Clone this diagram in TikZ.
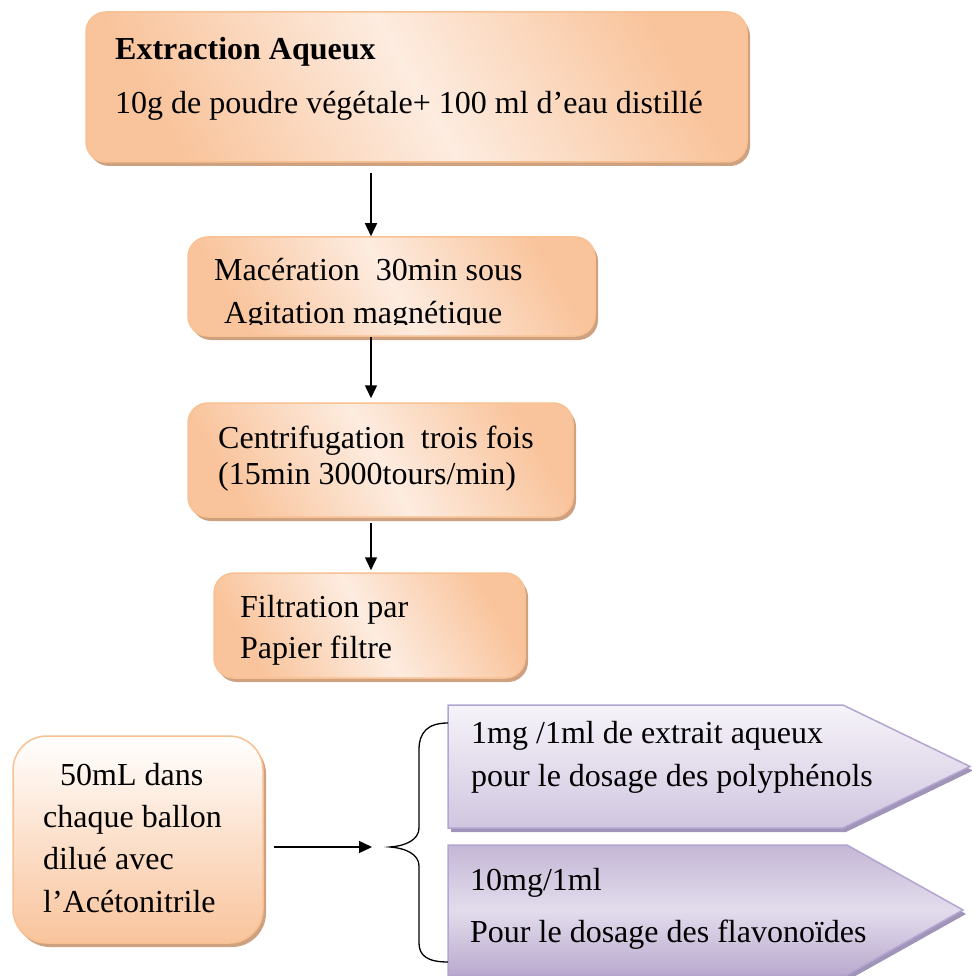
\documentclass[tikz,border=0pt]{standalone}
\usepackage{fontspec}
\setmainfont{Liberation Serif}
\usetikzlibrary{arrows.meta,shadows}
\definecolor{obord}{RGB}{249,192,146}
\definecolor{odark}{RGB}{249,196,156}
\definecolor{olight}{RGB}{253,236,224}
\definecolor{oshadow}{RGB}{206,162,128}
\definecolor{pbord}{RGB}{178,165,208}
\definecolor{plight}{RGB}{246,243,249}
\definecolor{pmid}{RGB}{214,205,228}
\definecolor{pdark}{RGB}{186,170,206}
\definecolor{pshadow}{RGB}{160,148,184}
\tikzset{
  obox/.style={draw=obord, line width=1.5pt, rounded corners=20pt, inner sep=0pt,
    left color=odark, right color=odark, middle color=olight, shading angle=120,
    drop shadow={shadow xshift=3pt, shadow yshift=-4pt, fill=oshadow, opacity=1}},
  pshape/.style={draw=pbord, line width=1.5pt,
    drop shadow={shadow xshift=3pt, shadow yshift=-4pt, fill=pshadow, opacity=1}},
  txt/.style={anchor=base west, inner sep=0pt, font=\fontsize{32}{38}\selectfont},
  arr/.style={line width=1.5pt, -{Triangle[length=13pt,width=12pt]}},
}
\begin{document}
\begin{tikzpicture}[x=1pt,y=-1pt]
\useasboundingbox (0,0) rectangle (971,976);
% orange boxes
\node[obox, minimum width=661pt, minimum height=150pt] (box1) at (416.5,87) {};
\node[obox, minimum width=407pt, minimum height=99pt] (box2) at (391.5,286.5) {};
\node[obox, minimum width=385pt, minimum height=114pt] (box3) at (380.5,460) {};
\node[obox, minimum width=311pt, minimum height=105pt] (box4) at (369.5,625.5) {};
\node[obox, rounded corners=34pt, minimum width=250pt, minimum height=207pt,
      top color=white, bottom color=odark, middle color=olight!70!odark] (box5) at (138,839.5) {};
% purple pentagons
\path[pshape, top color=plight, bottom color=pmid!80!pdark]
  (448,705) coordinate (p1nw) -- (843,705) -- (970,766.5) coordinate (p1tip) -- (843,828) -- (448,828) coordinate (p1sw) -- cycle;
\path[pshape, top color=pdark!85, bottom color=pdark, middle color=pmid!60!plight]
  (448,845) coordinate (p2nw) -- (847,845) -- (963,910) coordinate (p2tip) -- (847,975) -- (448,975) coordinate (p2sw) -- cycle;
% texts
\node[txt, font=\fontsize{32}{38}\selectfont\bfseries] (t1a) at (115,60) {Extraction Aqueux};
\node[txt] (t1b) at (115,114) {10g de poudre végétale+ 100 ml d’eau distillé};
\node[txt] (t2a) at (214,280) {Macération\ \ 30min sous};
\begin{scope}
  \clip (180,290) rectangle (600,324);
  \node[txt] (t2b) at (224,323) {Agitation magnétique};
\end{scope}
\node[txt] (t3a) at (218,448) {Centrifugation\ \ trois fois};
\node[txt] (t3b) at (218,484) {(15min 3000tours/min)};
\node[txt] (t4a) at (240,617) {Filtration par};
\node[txt] (t4b) at (240,658) {Papier filtre};
\node[txt] (t5a) at (60,785) {50mL dans};
\node[txt] (t5b) at (43,827) {chaque ballon};
\node[txt] (t5c) at (43,869) {dilué avec};
\node[txt] (t5d) at (43,912) {l’Acétonitrile};
\node[txt] (p1a) at (471,743) {1mg /1ml de extrait aqueux};
\node[txt] (p1b) at (471,786) {pour le dosage des polyphénols};
\node[txt] (p2a) at (470,890) {10mg/1ml};
\node[txt] (p2b) at (470,942) {Pour le dosage des flavonoïdes};
% arrows
\coordinate (ax) at (371,0);
\draw[arr] ([yshift=-10pt]box1.south -| ax) -- (box2.north -| ax);
\draw[arr] (box2.south -| ax) -- ([yshift=4pt]box3.north -| ax);
\draw[arr] ([yshift=-5pt]box3.south -| ax) -- ([yshift=2pt]box4.north -| ax);
% brace
\coordinate (bracetip) at (390,847);
\draw[line width=1.3pt] (p1nw |- 0,723) .. controls (428,723) and (419,732) .. (419,750)
  -- (419,828) .. controls (419,840) and (405,846) .. (bracetip)
  .. controls (405,848) and (419,854) .. (419,866)
  -- (419,943) .. controls (419,956) and (428,962) .. (p2sw |- 0,962);
\draw[arr] ([xshift=10pt]box5.east |- bracetip) -- ([xshift=-18pt]bracetip);
\end{tikzpicture}
\end{document}
